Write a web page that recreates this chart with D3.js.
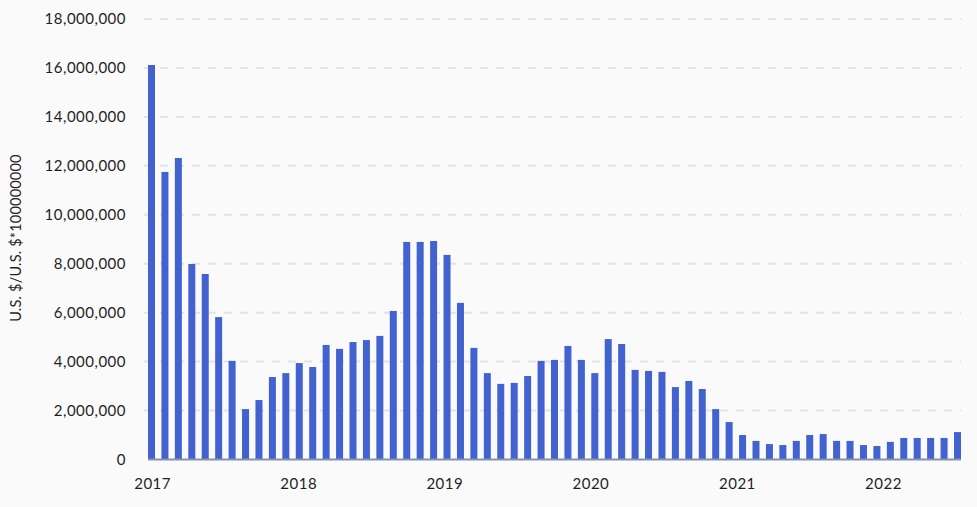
<!DOCTYPE html>
<html>
<head>
<meta charset="utf-8">
<script src="https://cdn.jsdelivr.net/npm/d3@7"></script>
<style>
  html, body { margin: 0; padding: 0; background: #fafafa; }
  svg { display: block; }
  text { font-family: Lato, "Open Sans", sans-serif; fill: #1f1f1f; }
</style>
</head>
<body>
<svg id="chart" width="977" height="507"></svg>
<script>
// Values in millions of U.S. $ (61 periods, Jan 2017 – mid 2022)
const valuesM = [
  16.12, 11.75, 12.32, 7.99, 7.58, 5.82, 4.03, 2.06, 2.43, 3.37, 3.53,
  3.94, 3.78, 4.68, 4.52, 4.80, 4.88, 5.05, 6.07, 8.89, 8.89, 8.93,
  8.36, 6.40, 4.56, 3.53, 3.09, 3.13, 3.41, 4.03, 4.07, 4.64, 4.07,
  3.53, 4.92, 4.72, 3.66, 3.62, 3.58, 2.96, 3.21, 2.88, 2.06, 1.53,
  1.00, 0.76, 0.63, 0.59, 0.76, 1.00, 1.04, 0.76, 0.76, 0.59, 0.55,
  0.72, 0.88, 0.88, 0.88, 0.88, 1.12
];
const values = valuesM.map(v => v * 1e6);
const yTicks = [0, 2e6, 4e6, 6e6, 8e6, 10e6, 12e6, 14e6, 16e6, 18e6];
const yearTicks = [2017, 2018, 2019, 2020, 2021, 2022];
const yTitle = "U.S. $/U.S. $*100000000";

const svg = d3.select("#chart");

const x = d3.scalePoint().domain(d3.range(values.length)).range([151.5, 957.5]);
const xTime = d3.scaleTime()
  .domain([new Date(2017, 0, 1), new Date(2022, 0, 1)])
  .range([152.6, 883.5]);
const y = d3.scaleLinear().domain([0, 18e6]).range([459.5, 19]);

// gridlines
svg.append("g").selectAll("line")
  .data(yTicks.filter(d => d > 0))
  .join("line")
  .attr("x1", 144).attr("x2", 961)
  .attr("y1", d => y(d)).attr("y2", d => y(d))
  .attr("stroke", "#dfe3ea")
  .attr("stroke-width", 2)
  .attr("stroke-dasharray", "8,8");

// bars
const barW = 7;
svg.append("g").selectAll("rect")
  .data(values)
  .join("rect")
  .attr("x", (d, i) => x(i) - barW / 2)
  .attr("width", barW)
  .attr("y", d => y(d))
  .attr("height", d => y(0) - y(d))
  .attr("fill", "#4262cf");

// baseline
svg.append("line")
  .attr("x1", 148).attr("x2", 961)
  .attr("y1", y(0)).attr("y2", y(0))
  .attr("stroke", "#8393ad")
  .attr("stroke-width", 2);

// y axis labels
const fmt = d3.format(",");
svg.append("g").selectAll("text")
  .data(yTicks)
  .join("text")
  .attr("x", 126)
  .attr("y", d => y(d))
  .attr("dy", "0.35em")
  .attr("text-anchor", "end")
  .attr("font-size", 15)
  .attr("letter-spacing", 0.5)
  .text(d => fmt(d));

// x axis labels
svg.append("g").selectAll("text")
  .data(yearTicks)
  .join("text")
  .attr("x", d => xTime(new Date(d, 0, 1)))
  .attr("y", 484)
  .attr("dy", "0.35em")
  .attr("text-anchor", "middle")
  .attr("font-size", 15)
  .attr("letter-spacing", 0.5)
  .text(d => d);

// y title
svg.append("text")
  .attr("transform", "translate(16,238) rotate(-90)")
  .attr("text-anchor", "middle")
  .attr("dy", "0.35em")
  .attr("font-size", 14.5)
  .attr("letter-spacing", 0.2)
  .text(yTitle);
</script>
</body>
</html>
